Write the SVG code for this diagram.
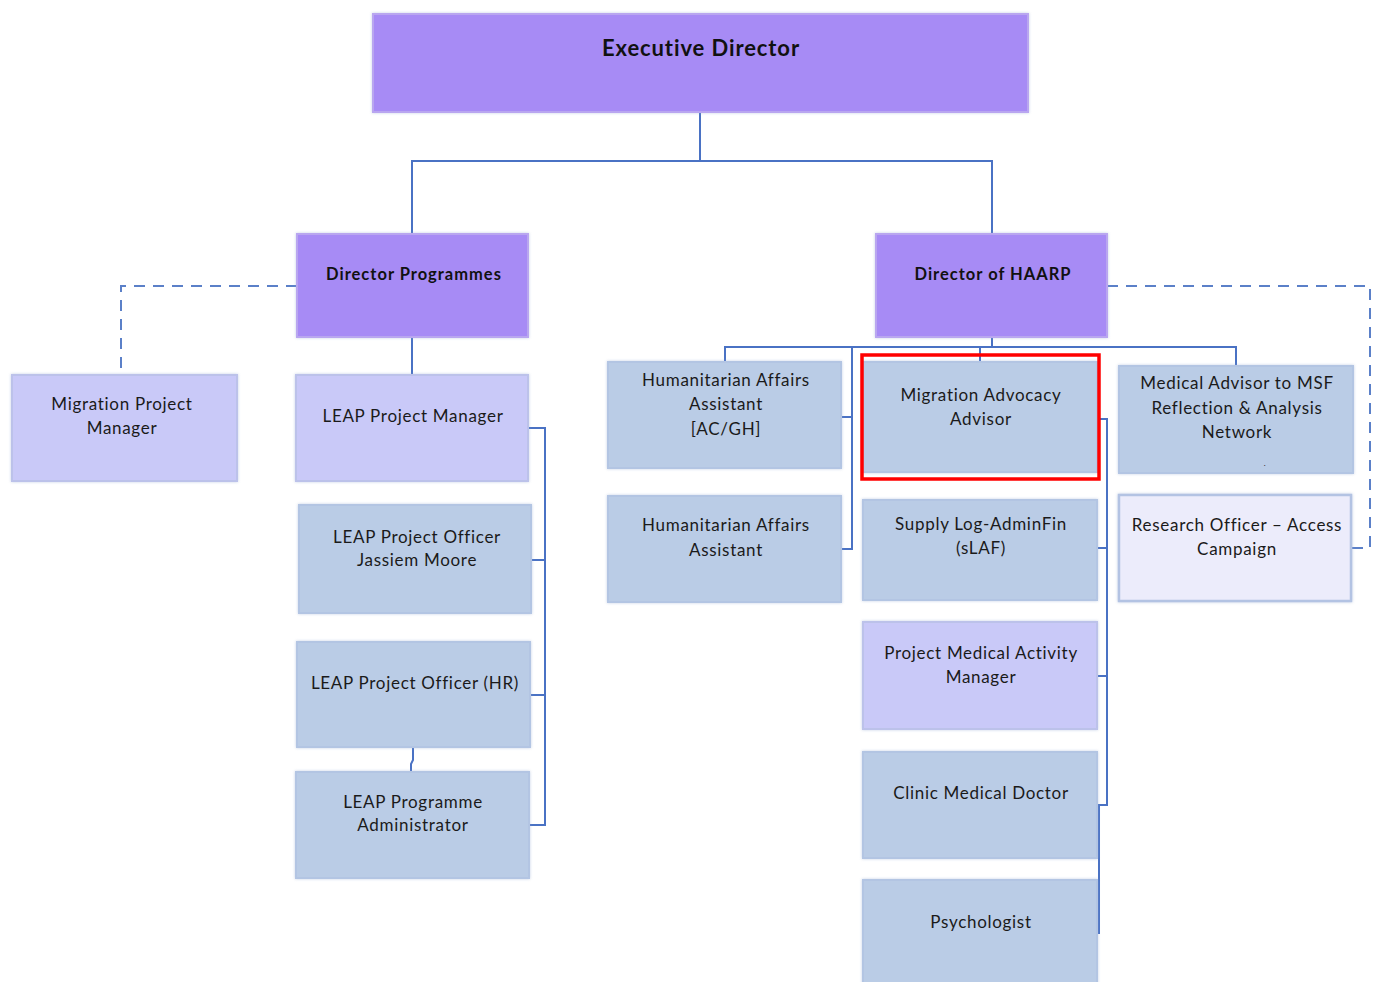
<svg xmlns="http://www.w3.org/2000/svg" width="1376" height="982" viewBox="0 0 1376 982">
<defs>
<filter id="soft" x="-5%" y="-5%" width="110%" height="110%">
<feGaussianBlur in="SourceAlpha" stdDeviation="1.5" result="b"/>
<feFlood flood-color="#8fa3cf" flood-opacity="0.5"/>
<feComposite in2="b" operator="in" result="s"/>
<feMerge><feMergeNode in="s"/><feMergeNode in="SourceGraphic"/></feMerge>
</filter>
<style>
.head{fill:#a78bf5;stroke:#b9a6f0;stroke-width:2;filter:url(#soft)}
.lav{fill:#c9c9f8;stroke:#bcc2ea;stroke-width:2;filter:url(#soft)}
.blue{fill:#bacce6;stroke:#b3c5e3;stroke-width:2;filter:url(#soft)}
.pale{fill:#ececfb;stroke:#b3c3e3;stroke-width:2.5;filter:url(#soft)}
.t{font-family:Lato,"Liberation Sans",sans-serif;font-size:17px;letter-spacing:0.7px;fill:#1a1a1a;text-anchor:middle}
.tb{font-family:Lato,"Liberation Sans",sans-serif;font-size:16.5px;letter-spacing:1px;font-weight:bold;fill:#111;text-anchor:middle}
.tx{font-family:Lato,"Liberation Sans",sans-serif;font-size:22px;letter-spacing:0.9px;font-weight:bold;fill:#111;text-anchor:middle}
.ln{fill:none;stroke:#4a72c4;stroke-width:2}
.dash{fill:none;stroke:#5b80c8;stroke-width:2;stroke-dasharray:11 8}
</style>
</defs>
<rect width="1376" height="982" fill="#ffffff"/>

<g id="connectors">
<path class="ln" d="M700 112 V161 M412 234 V161 H992 V234"/>
<path class="dash" d="M297 286 H121 V375"/>
<path class="ln" d="M412 337 V375"/>
<path class="ln" d="M528 428 H545 V825 H529 M531 560 H545 M530 695 H545"/>
<path class="ln" d="M413 747 V760 L411 764 V773"/>
<path class="ln" d="M992 337 V347 M725 362 V347 H1236 V368 M980 347 V370"/>
<path class="ln" d="M841 417 H852 V347 M852 417 V549 H841"/>
<path class="ln" d="M1097 419 H1107 V805 H1099 V933 H1097 M1097 548 H1107 M1097 676 H1107 M1097 805 H1099"/>
<path class="dash" d="M1107 286 H1370 V548 H1351"/>
</g>

<g id="n-exec"><rect class="head" x="373" y="14" width="655" height="98"/><text class="tx" x="701" y="56">Executive Director</text></g>
<g id="n-dirprog"><rect class="head" x="297" y="234" width="231" height="103"/><text class="tb" x="414" y="280">Director Programmes</text></g>
<g id="n-dirhaarp"><rect class="head" x="876" y="234" width="231" height="103"/><text class="tb" x="993" y="280">Director of HAARP</text></g>

<g id="n-mpm"><rect class="lav" x="12" y="375" width="225" height="106"/><text class="t" x="122" y="410">Migration Project</text><text class="t" x="122" y="434">Manager</text></g>
<g id="n-leappm"><rect class="lav" x="296" y="375" width="232" height="106"/><text class="t" x="413" y="422">LEAP Project Manager</text></g>
<g id="n-leapjm"><rect class="blue" x="299" y="505" width="232" height="108"/><text class="t" x="417" y="543">LEAP Project Officer</text><text class="t" x="417" y="566">Jassiem Moore</text></g>
<g id="n-leaphr"><rect class="blue" x="297" y="642" width="233" height="105"/><text class="t" x="415" y="689">LEAP Project Officer (HR)</text></g>
<g id="n-leapadm"><rect class="blue" x="296" y="772" width="233" height="106"/><text class="t" x="413" y="808">LEAP Programme</text><text class="t" x="413" y="831">Administrator</text></g>

<g id="n-haa1"><rect class="blue" x="608" y="362" width="233" height="106"/><text class="t" x="726" y="386">Humanitarian Affairs</text><text class="t" x="726" y="410">Assistant</text><text class="t" x="726" y="435">[AC/GH]</text></g>
<g id="n-haa2"><rect class="blue" x="608" y="496" width="233" height="106"/><text class="t" x="726" y="531">Humanitarian Affairs</text><text class="t" x="726" y="556">Assistant</text></g>

<g id="n-maa"><rect class="blue" x="863" y="362" width="234" height="110"/><text class="t" x="981" y="401">Migration Advocacy</text><text class="t" x="981" y="425">Advisor</text>
<rect x="862" y="355" width="237" height="124" fill="none" stroke="#ff0000" stroke-width="3.5"/></g>
<g id="n-slaf"><rect class="blue" x="863" y="500" width="234" height="100"/><text class="t" x="981" y="530">Supply Log-AdminFin</text><text class="t" x="981" y="554">(sLAF)</text></g>
<g id="n-pmam"><rect class="lav" x="863" y="622" width="234" height="107"/><text class="t" x="981" y="659">Project Medical Activity</text><text class="t" x="981" y="683">Manager</text></g>
<g id="n-cmd"><rect class="blue" x="863" y="752" width="234" height="106"/><text class="t" x="981" y="799">Clinic Medical Doctor</text></g>
<g id="n-psy"><rect class="blue" x="863" y="880" width="234" height="110"/><text class="t" x="981" y="928">Psychologist</text></g>

<g id="n-medadv"><rect class="blue" x="1119" y="366" width="234" height="107"/><text class="t" x="1237" y="389">Medical Advisor to MSF</text><text class="t" x="1237" y="414">Reflection &amp; Analysis</text><text class="t" x="1237" y="438">Network</text><text class="t" x="1265" y="466" style="font-size:8px">.</text></g>
<g id="n-research"><rect class="pale" x="1119" y="495" width="232" height="106"/><text class="t" x="1237" y="531">Research Officer – Access</text><text class="t" x="1237" y="555">Campaign</text></g>
</svg>
